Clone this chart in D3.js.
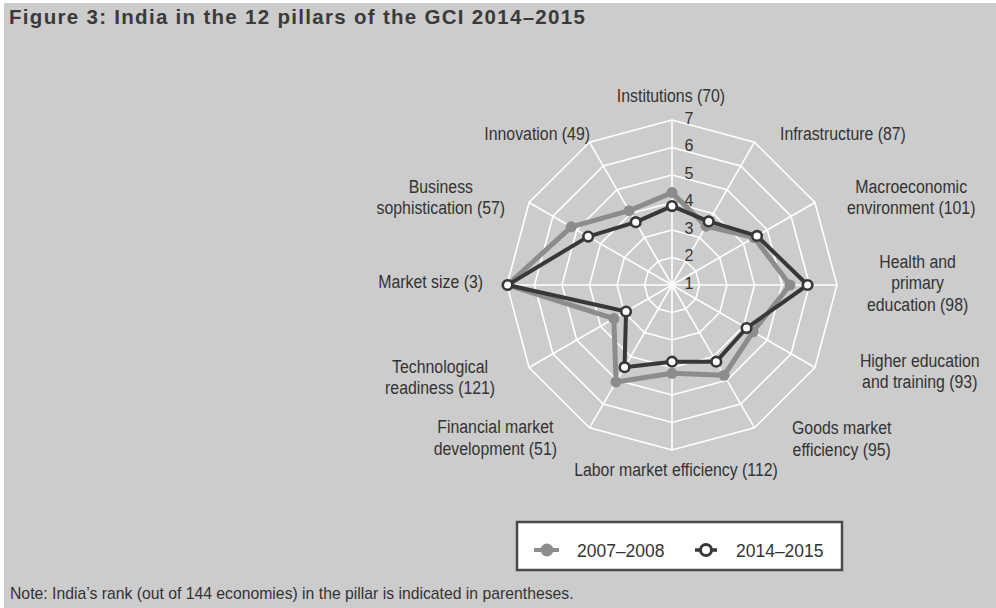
<!DOCTYPE html>
<html>
<head>
<meta charset="utf-8">
<script src="https://cdn.jsdelivr.net/npm/d3@7"></script>
<style>
  body { margin: 0; background: #fff; }
  text { fill: #333; }
  .lbl { font-family: "Liberation Sans", Arial, sans-serif; font-size: 18px; }
</style>
</head>
<body>
<div id="chart"></div>
<script>
// pillars, clockwise from the top
var pillars = [
  ["Institutions (70)"],
  ["Infrastructure (87)"],
  ["Macroeconomic", "environment (101)"],
  ["Health and", "primary", "education (98)"],
  ["Higher education", "and training (93)"],
  ["Goods market", "efficiency (95)"],
  ["Labor market efficiency (112)"],
  ["Financial market", "development (51)"],
  ["Technological", "readiness (121)"],
  ["Market size (3)"],
  ["Business", "sophistication (57)"],
  ["Innovation (49)"]
];
var scores0708 = [4.36, 3.47, 4.45, 5.29, 4.40, 4.79, 4.21, 5.07, 3.44, 6.98, 5.23, 4.12];
var scores1415 = [3.87, 3.67, 4.57, 5.93, 4.13, 4.22, 3.79, 4.45, 2.93, 6.98, 4.52, 3.64];
var ticks = [1, 2, 3, 4, 5, 6, 7];
var seriesNames = ["2007\u20132008", "2014\u20132015"];

// small nudges for each pillar label (layout only)
var labelNudge = [[-1,-9],[18,5],[19,2],[15,-2],[32,-4],[30,-2],[4,5],[-25,-3],[-21,2],[-9,-3],[-11,2],[8,5]];

var width = 996, height = 608;
var cx = 672, cy = 285;
var narrow = 0.88; // no condensed font here, squeeze the glyphs instead

var svg = d3.select("#chart").append("svg")
  .attr("width", width)
  .attr("height", height);

function squeeze(t, f) {
  var w = t.node().getComputedTextLength() * f;
  t.attr("textLength", w).attr("lengthAdjust", "spacingAndGlyphs");
  return w;
}

svg.append("rect")
  .attr("x", 4).attr("y", 3)
  .attr("width", width - 4).attr("height", height - 3)
  .attr("fill", "#cccccc");

svg.append("text")
  .attr("x", 9).attr("y", 24)
  .style("font-family", "'Liberation Sans', Arial, sans-serif")
  .style("font-size", "20.5px")
  .style("font-weight", "bold")
  .style("letter-spacing", "1.3px")
  .style("fill", "#3a3a3a")
  .text("Figure 3: India in the 12 pillars of the GCI 2014\u20132015");

var r = d3.scaleLinear().domain([1, 7]).range([0, 165]);
var angle = d3.scaleLinear().domain([0, pillars.length]).range([0, 2 * Math.PI]);

var g = svg.append("g").attr("transform", "translate(" + cx + "," + cy + ")");

function pt(i, v) {
  var a = angle(i);
  return [r(v) * Math.sin(a), -r(v) * Math.cos(a)];
}

// grid rings
ticks.slice(1).forEach(function(t) {
  g.append("path")
    .attr("d", d3.line()(pillars.map(function(p, i) { return pt(i, t); })) + "Z")
    .attr("fill", "none")
    .attr("stroke", "#fff")
    .attr("stroke-width", 1.6);
});
// spokes
g.selectAll("line.spoke").data(pillars).enter().append("line")
  .attr("class", "spoke")
  .attr("x1", 0).attr("y1", 0)
  .attr("x2", function(d, i) { return pt(i, 7)[0]; })
  .attr("y2", function(d, i) { return pt(i, 7)[1]; })
  .attr("stroke", "#fff")
  .attr("stroke-width", 1.6);

// tick numbers
g.selectAll("text.tick").data(ticks).enter().append("text")
  .attr("class", "lbl")
  .attr("x", 17)
  .attr("y", function(d) { return -r(d) - 2; })
  .attr("dy", "0.35em")
  .attr("text-anchor", "middle")
  .style("font-size", "16px")
  .text(function(d) { return d; });

// series
var line = d3.line().curve(d3.curveLinearClosed);

function drawSeries(vals, color, lw) {
  g.append("path")
    .attr("d", line(vals.map(function(v, i) { return pt(i, v); })))
    .attr("fill", "none")
    .attr("stroke", color)
    .attr("stroke-width", lw)
    .attr("stroke-linejoin", "round");
}
drawSeries(scores0708, "#8c8c8c", 5);
g.selectAll("circle.s0").data(scores0708).enter().append("circle")
  .attr("cx", function(d, i) { return pt(i, d)[0]; })
  .attr("cy", function(d, i) { return pt(i, d)[1]; })
  .attr("r", 5.5)
  .attr("fill", "#8c8c8c");

drawSeries(scores1415, "#383838", 4);
g.selectAll("circle.s1").data(scores1415).enter().append("circle")
  .attr("cx", function(d, i) { return pt(i, d)[0]; })
  .attr("cy", function(d, i) { return pt(i, d)[1]; })
  .attr("r", 4.8)
  .attr("fill", "#fff")
  .attr("stroke", "#383838")
  .attr("stroke-width", 2.6);

// pillar labels
var lineH = 21.5;
pillars.forEach(function(lines, i) {
  var a = angle(i);
  var ax = 180 * Math.sin(a) + labelNudge[i][0];
  var ay = -180 * Math.cos(a) + labelNudge[i][1];
  var texts = lines.map(function(s, k) {
    return g.append("text").attr("class", "lbl")
      .attr("text-anchor", "middle")
      .attr("y", ay + (k - (lines.length - 1) / 2) * lineH)
      .attr("dy", "0.35em")
      .text(s);
  });
  var w = d3.max(texts, function(t) { return squeeze(t, narrow); });
  var side = Math.abs(Math.sin(a)) < 0.01 ? 0 : (Math.sin(a) > 0 ? 1 : -1);
  var mx = ax + side * w / 2;
  texts.forEach(function(t) { t.attr("x", mx); });
});

// legend
var lg = svg.append("g");
lg.append("rect")
  .attr("x", 517).attr("y", 522)
  .attr("width", 325).attr("height", 48)
  .attr("fill", "#fff")
  .attr("stroke", "#4a4a4a")
  .attr("stroke-width", 2.5);
var legX = [547, 706];
lg.append("line").attr("x1", legX[0] - 13).attr("x2", legX[0] + 12).attr("y1", 550).attr("y2", 550)
  .attr("stroke", "#8c8c8c").attr("stroke-width", 4);
lg.append("circle").attr("cx", legX[0]).attr("cy", 550).attr("r", 6.5).attr("fill", "#8c8c8c");
lg.append("line").attr("x1", legX[1] - 11).attr("x2", legX[1] + 11).attr("y1", 550).attr("y2", 550)
  .attr("stroke", "#383838").attr("stroke-width", 3.5);
lg.append("circle").attr("cx", legX[1]).attr("cy", 550).attr("r", 5.5)
  .attr("fill", "#fff").attr("stroke", "#383838").attr("stroke-width", 3);
seriesNames.forEach(function(s, i) {
  var t = lg.append("text").attr("class", "lbl")
    .attr("x", legX[i] + 30).attr("y", 550).attr("dy", "0.35em")
    .style("font-size", "19px")
    .text(s);
  squeeze(t, 0.92);
});

// note
svg.append("text").attr("class", "lbl")
  .attr("x", 10).attr("y", 593).attr("dy", "0.35em")
  .style("font-size", "15.75px")
  .text("Note: India\u2019s rank (out of 144 economies) in the pillar is indicated in parentheses.");
</script>
</body>
</html>
